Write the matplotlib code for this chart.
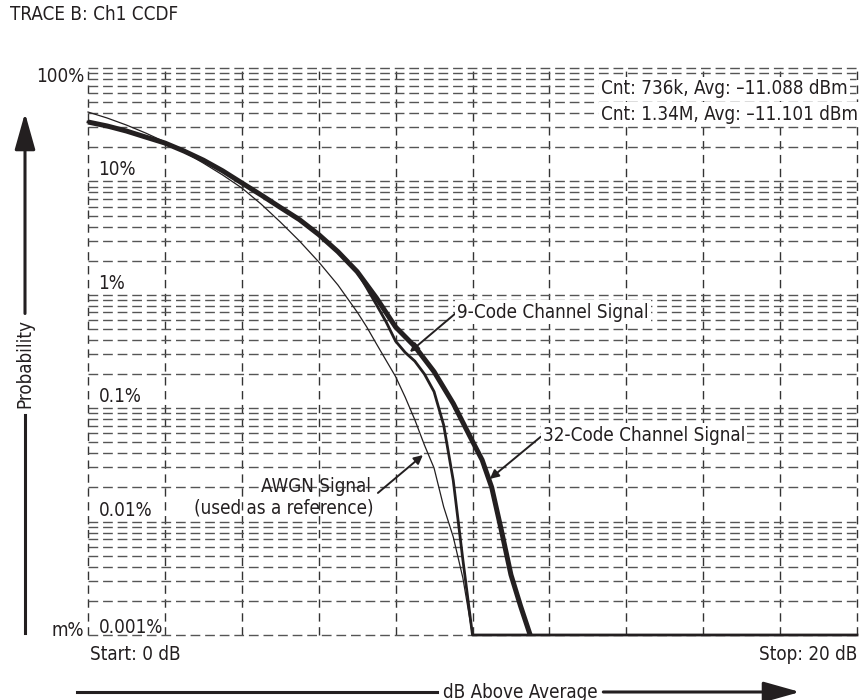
import matplotlib
matplotlib.use('Agg')
import matplotlib.pyplot as plt
from matplotlib.ticker import LogLocator, NullFormatter
from matplotlib.patches import FancyArrowPatch
from matplotlib.lines import Line2D
import numpy as np

plt.rcParams['font.family'] = ['DejaVu Sans']
plt.rcParams['font.stretch'] = 'condensed'
plt.rcParams['lines.scale_dashes'] = False

# CCDF curves, dB above average vs probability in percent
db_32 = [0, 0.5, 1, 1.5, 2, 2.5, 3, 3.5, 4, 4.5, 5, 5.5, 6, 6.5, 7, 7.5, 8, 8.5,
         9, 9.5, 10, 10.25, 10.5, 10.75, 11, 11.25, 11.5]
prob_32 = [33.4, 30.8, 27.8, 24.6, 21.8, 18.5, 15.4, 12.4, 9.7, 7.6, 5.9, 4.6, 3.4, 2.4,
           1.6, 0.94, 0.52, 0.35, 0.21, 0.11, 0.051, 0.035, 0.020, 0.0084, 0.0034, 0.0018, 0.001]

db_9 = [0, 0.5, 1, 1.5, 2, 2.5, 3, 3.5, 4, 4.5, 5, 5.5, 6, 6.5, 7,
        7.25, 7.5, 7.75, 8, 8.25, 8.5, 8.75, 9, 9.25, 9.5, 9.75, 10, 20]
prob_9 = [33.4, 30.8, 27.8, 24.6, 21.8, 18.5, 15.4, 12.4, 9.7, 7.6, 5.9, 4.6, 3.4, 2.4, 1.6,
          1.15, 0.82, 0.58, 0.39, 0.31, 0.26, 0.20, 0.14, 0.071, 0.023, 0.0046, 0.001, 0.001]

db_awgn = [0, 0.5, 1, 1.5, 2, 2.5, 3, 3.5, 4, 4.5, 5, 5.5, 6, 6.5, 7, 7.25, 7.5, 7.75, 8,
           8.25, 8.5, 8.75, 9, 9.25, 9.5, 9.75, 10]
prob_awgn = [40.9, 36.2, 31.4, 26.7, 22.3, 18.2, 14.5, 11.4, 8.75, 6.32, 4.39, 2.98, 1.95,
             1.22, 0.705, 0.52, 0.37, 0.265, 0.19, 0.125, 0.079, 0.0473, 0.0297, 0.0135,
             0.00731, 0.00318, 0.001]

decades = [10, 1, 0.1, 0.01, 0.001]
decade_labels = ['10%', '1%', '0.1%', '0.01%', '0.001%']
count_lines = ['Cnt: 736k, Avg: \u201311.088 dBm', 'Cnt: 1.34M, Avg: \u201311.101 dBm']

W, H = 868, 700
fig = plt.figure(figsize=(W/100, H/100), dpi=100)
ax = fig.add_axes([88/W, 1-635/H, (857-88)/W, (635-68)/H])

def fx(px):
    return px/W

def fy(py):
    return 1 - py/H

ax.set_yscale('log')
ax.set_xlim(0, 20)
ax.set_ylim(0.001, 100)
ax.set_xticks(np.arange(0, 21, 2))
ax.yaxis.set_major_locator(LogLocator(base=10, numticks=10))
ax.yaxis.set_minor_locator(LogLocator(base=10, subs=np.arange(2, 10), numticks=20))
ax.yaxis.set_minor_formatter(NullFormatter())
ax.tick_params(which='both', length=0, labelbottom=False, labelleft=False)
for s in ax.spines.values():
    s.set_visible(False)
ax.grid(which='both', axis='y', color='#555555', lw=1.0, linestyle=(0, (7, 3.5)))
ax.grid(which='major', axis='x', color='#333333', lw=1.0, linestyle=(0, (6, 4)))
ax.set_axisbelow(True)
for gl in ax.get_xgridlines() + ax.get_ygridlines():
    gl.set_clip_on(False)

ax.plot(db_awgn, prob_awgn, color='#231f20', lw=0.9, clip_on=False, zorder=3)
ax.plot(db_9, prob_9, color='#231f20', lw=2.0, clip_on=False, zorder=4)
ax.plot(db_32, prob_32, color='#231f20', lw=3.6, clip_on=False, zorder=5,
        solid_capstyle='butt')

fs = 13.5
tc = '#231f20'
for v, lab in zip(decades, decade_labels):
    f = 1.13 if v > 0.001 else 1.04
    ax.text(0.27, v*f, lab, fontsize=fs, ha='left', va='baseline', color=tc)

bb = dict(facecolor='white', edgecolor='none', pad=1.5)
ax.text(fx(601), fy(89), count_lines[0], transform=fig.transFigure, fontsize=fs,
        ha='left', va='center', color=tc, bbox=bb, zorder=6)
ax.text(fx(601), fy(114), count_lines[1], transform=fig.transFigure, fontsize=fs,
        ha='left', va='center', color=tc, bbox=bb, zorder=6)

arr = dict(arrowstyle='-|>', color=tc, lw=1.4, mutation_scale=13,
           shrinkA=0, shrinkB=0)
ax.annotate('9-Code Channel Signal', xy=(8.37, 0.313), xytext=(9.6, 0.705),
            fontsize=fs, ha='left', va='center', color=tc,
            arrowprops=dict(arr, relpos=(0, 0.5)), bbox=bb, zorder=6)
ax.annotate('32-Code Channel Signal', xy=(10.45, 0.0238), xytext=(11.83, 0.058),
            fontsize=fs, ha='left', va='center', color=tc,
            arrowprops=dict(arr, relpos=(0, 0.5)), bbox=bb, zorder=6)
ax.annotate('', xy=(8.71, 0.0386), xytext=(7.54, 0.0179), arrowprops=arr, zorder=6)
ax.text(7.35, 0.0206, 'AWGN Signal', fontsize=fs, ha='right', va='center',
        color=tc, zorder=6)
ax.text(7.42, 0.0132, '(used as a reference)', fontsize=fs, ha='right', va='center',
        color=tc, zorder=6)

# labels outside the graticule
fig.text(fx(10), fy(15), 'TRACE B: Ch1 CCDF', fontsize=fs, ha='left', va='center', color=tc)
fig.text(fx(84), fy(77), '100%', fontsize=fs, ha='right', va='center', color=tc)
fig.text(fx(84), fy(631), 'm%', fontsize=fs, ha='right', va='center', color=tc)
fig.text(fx(90), fy(655), 'Start: 0 dB', fontsize=fs, ha='left', va='center', color=tc)
fig.text(fx(857), fy(654), 'Stop: 20 dB', fontsize=fs, ha='right', va='center', color=tc)
ylab = fig.text(fx(25), fy(364), 'Probability', fontsize=fs, ha='center', va='center',
                rotation=90, color=tc)
xlab = fig.text(fx(520), fy(692), 'dB Above Average', fontsize=fs, ha='center', va='center',
                color=tc)

# arrows around the axis names, gaps fitted to the text extents
fig.canvas.draw()
r = fig.canvas.get_renderer()
xb = xlab.get_window_extent(r)
yb = ylab.get_window_extent(r)
gap = 6
ytop = H - yb.y1 - gap
ybot = H - yb.y0 + gap
fig.add_artist(Line2D([fx(25), fx(25)], [fy(633), fy(ybot)], color=tc, lw=2.2))
fig.add_artist(FancyArrowPatch((fx(25), fy(ytop)), (fx(25), fy(113)), transform=fig.transFigure,
                               arrowstyle='-|>,head_length=1.6,head_width=0.45',
                               mutation_scale=14, color=tc, lw=2.2,
                               shrinkA=0, shrinkB=0))
fig.add_artist(Line2D([fx(77), fx(xb.x0 - gap)], [fy(692), fy(692)], color=tc, lw=2.2))
fig.add_artist(FancyArrowPatch((fx(xb.x1 + gap), fy(692)), (fx(800), fy(692)),
                               transform=fig.transFigure,
                               arrowstyle='-|>,head_length=1.6,head_width=0.45',
                               mutation_scale=14, color=tc, lw=2.2,
                               shrinkA=0, shrinkB=0))

fig.savefig('out.png', dpi=100, facecolor='white')
